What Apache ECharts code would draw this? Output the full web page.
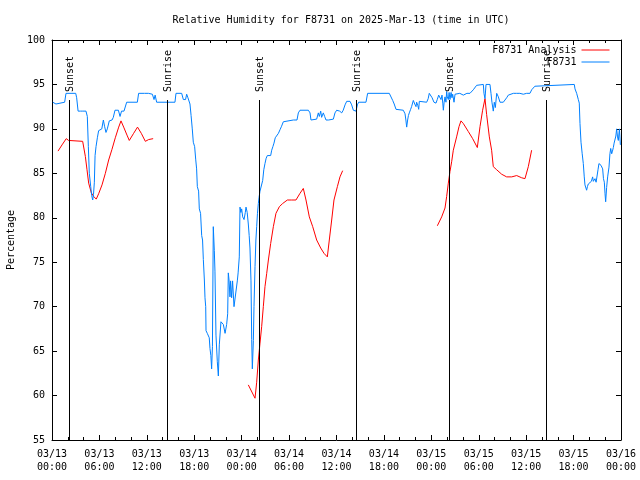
<!DOCTYPE html>
<html><head><meta charset="utf-8">
<script src="https://cdn.jsdelivr.net/npm/echarts@6/dist/echarts.min.js"></script>
<style>html,body{margin:0;padding:0;background:#fff}#c{width:640px;height:480px}</style>
</head><body><div id="c"></div>
<script>
// ---- data (time in hours since 2025-03-13 00:00 UTC) ----
const dayLabels = ['03/13', '03/14', '03/15', '03/16'];
const yTicks = [55, 60, 65, 70, 75, 80, 85, 90, 95, 100];

const obsTime = [0.1,0.35,0.5,0.7,1.6,1.77,3.0,3.12,3.3,3.6,3.75,3.9,4.3,4.47,4.6,4.72,4.9,5.02,5.15,5.25,5.36,5.45,5.57,5.74,5.9,6.07,6.3,6.5,6.65,6.83,7.0,7.25,7.6,7.76,7.97,8.4,8.61,8.8,9.11,9.45,10.8,10.96,11.7,11.89,12.2,12.7,12.91,13.05,13.24,15.56,15.69,16.41,16.62,16.9,17.04,17.2,17.38,17.46,17.6,17.75,17.88,18.05,18.18,18.3,18.39,18.55,18.64,18.8,18.94,19.05,19.15,19.28,19.36,19.45,19.49,19.65,19.78,19.9,19.99,20.1,20.2,20.3,20.41,20.54,20.62,20.75,20.92,21.05,21.17,21.38,21.5,21.68,21.9,22.02,22.1,22.23,22.31,22.4,22.52,22.6,22.73,22.85,23.03,23.28,23.45,23.55,23.7,23.79,23.9,24.0,24.13,24.3,24.46,24.55,24.7,24.84,24.95,25.05,25.18,25.27,25.35,25.48,25.56,25.69,25.8,25.9,26.0,26.11,26.2,26.32,26.5,26.66,26.8,26.95,27.1,27.25,27.67,27.8,27.95,28.09,28.25,28.43,28.65,28.85,29.05,29.27,29.48,30.54,31.0,31.17,31.38,32.44,32.65,32.77,33.49,33.7,33.83,34.0,34.12,34.33,34.5,34.67,35.0,35.6,35.81,36.02,36.4,36.66,36.85,37.08,37.29,37.71,37.92,38.13,38.47,38.64,38.8,39.73,39.94,42.68,42.85,43.11,43.3,43.53,44.45,44.67,44.78,44.88,45.0,45.1,45.21,45.38,45.5,45.72,45.9,46.06,46.14,46.3,46.4,46.48,47.41,47.6,47.74,47.83,48.1,48.33,48.59,48.75,48.93,49.1,49.22,49.35,49.45,49.52,49.62,49.73,49.85,49.94,50.02,50.15,50.25,50.36,50.5,50.61,50.7,50.87,51.0,51.2,51.6,51.85,52.05,52.5,52.7,52.89,53.1,53.31,53.5,53.73,54.58,54.66,54.79,54.92,55.42,55.55,55.67,55.84,55.97,56.1,56.27,56.48,56.69,56.9,57.11,57.3,57.53,57.74,57.95,58.38,58.6,58.8,59.2,59.64,60.06,60.48,60.7,60.9,61.1,61.24,66.09,66.18,66.39,66.6,66.72,66.81,66.94,67.09,67.23,67.35,67.44,67.55,67.65,67.75,67.86,68.07,68.25,68.41,68.5,68.71,68.85,68.96,69.09,69.21,69.47,69.68,69.78,69.89,69.98,70.06,70.18,70.31,70.48,70.6,70.7,70.82,70.92,71.03,71.13,71.24,71.35,71.45,71.56,71.66,71.8,71.92];
const obsRH = [93,93,92.8,93,93,94,94,93.5,92,92,91.8,92,92,91.4,88,85,83.5,82.5,82,82.6,84,87,88,89,89.8,90,90,91,90.3,89.6,90,90.9,91,91.3,92.1,92.1,91.4,92,92,93,93,94,94,93.8,94,93.9,93.3,93.8,93,93,94,94,93.3,93.3,93.9,93.5,93.3,92.8,91.5,90,88.5,88,86.6,85.5,83.5,83,81,80.5,78,77.5,75.3,73,71,70,67.3,67,66.8,66.5,65.3,64.5,63,65.5,79,76.3,74,66.8,63.8,62.2,65.7,68.3,68.5,68,67,66.8,68,69.2,73.8,73,71.1,72.9,71,72.9,70,70,72.9,73.8,75.6,81.2,80.6,81,80.1,79.8,80.6,81.2,80.6,79.3,78,76.6,72.9,66.3,63,66.2,70,74.5,77.5,79,80.5,81.6,82.3,83,83.2,84.2,85.4,86.1,86.7,87,87,87.6,88,88.4,89,89.1,89.5,89.9,90.3,90.8,91,91,91,91.8,92.1,92.1,91.8,91,91.1,91.8,91.4,92,91.3,91.8,91.4,91,91,91.1,91.8,92.1,92,91.8,92.1,92.7,93.1,93.1,92.7,92.1,92,92.7,93,93,94,94,93.8,93.2,92.8,92.2,92.1,91.7,91,90.2,91,91.5,91.8,92.2,92.5,93.2,92.8,92.5,93,92.6,92.2,93.1,93,93.4,94,94,93.5,93,92.9,93.3,93.8,93.8,93.3,93.8,92.9,92.1,93,93.6,93,94.2,93.6,93.3,94.1,93.3,94.1,93.5,93.9,93,93.9,94,94,93.9,93.8,94,93.9,94,94.1,94.4,94.2,94.9,95,94,93.4,95,95,94,93,92,93,92.4,94,93.6,93,93.1,93,93.1,93.5,93.8,94,94,93.8,94,94,93.9,94,94,94.4,94.4,94.8,95,95,94.5,94,93.3,92.9,90.6,88.5,87.2,86.1,84.6,83.7,83.7,83.1,83.5,83.8,84,84.1,84.6,84.1,84.4,84,84,85.4,86.1,85.9,85.5,84.4,84,82.7,81.8,83.4,84.6,85.7,87.2,87.8,87.2,87.5,87.9,88.4,88.6,89.2,90,89.1,88.7,90,88.2];

// analysis: null marks a gap between runs
const anaTime = [0.76,1.27,1.8,2.1,3.88,4.22,4.43,4.64,4.98,5.27,5.6,5.9,6.33,6.75,7.17,7.59,8.01,8.44,8.73,9.07,9.49,9.78,10.33,10.82,11.3,11.81,12.23,12.8,
  18,
  24.84,25.69,25.9,26.11,26.32,26.53,26.74,26.95,27.17,27.38,27.67,28.01,28.34,28.77,29.18,29.78,30.33,30.87,31.38,31.8,32.14,32.56,32.99,33.49,34.0,34.42,34.84,35.09,35.39,35.68,36.11,36.44,36.78,
  42,
  48.76,49.31,49.73,49.94,50.15,50.36,50.57,50.78,51.2,51.5,51.75,52.05,52.68,53.23,53.82,54.16,54.49,54.79,55.0,55.34,55.63,55.84,56.27,56.9,57.53,58.17,58.8,59.43,59.85,60.27,60.69];
const anaRH = [87.5,88.2,88.9,88.7,88.6,86.9,85.4,83.9,82.8,82.4,82.1,82.7,83.7,85,86.5,87.7,89,90.2,90.9,90.2,89.3,88.7,89.5,90.2,89.5,88.6,88.8,88.9,
  null,
  61.2,59.7,61.5,64,65.9,67.75,70,72.25,73.75,75.25,77.1,79,80.5,81.25,81.6,82,82,82,82.75,83.3,82,80.1,79,77.5,76.6,76,75.6,77.5,79.75,82,83.5,84.6,85.3,
  null,
  79.1,80.1,81.1,82.4,83.9,85.2,86.3,87.6,89.1,90.25,90.9,90.6,89.7,88.9,87.9,90.25,92.1,93.4,91.6,89.1,87.6,85.75,85.4,84.9,84.6,84.6,84.75,84.5,84.4,85.75,87.6];

const sunTime = [2.19, 14.59, 26.23, 38.50, 50.27, 62.55];
const sunLabel = ['Sunset', 'Sunrise', 'Sunset', 'Sunrise', 'Sunset', 'Sunrise'];

// ---- styling ----
const FONT = 'DejaVu Sans Mono';
const FS = 10;
const RED = '#ff0000', BLUE = '#0080ff';
const Y_MIN = yTicks[0], Y_MAX = yTicks[yTicks.length - 1];
const LINE_TOP_FRAC = 0.85, LABEL_FRAC = 0.87;

const pad = n => (n < 10 ? '0' : '') + n;
const xFmt = v => dayLabels[Math.floor(v / 24)] + '\n' + pad(Math.round(v % 24)) + ':00';

const tickCommon = { show: true, inside: true, length: 5, lineStyle: { color: '#000', width: 1 } };
const lineCommon = { show: true, onZero: false, lineStyle: { color: '#000', width: 1 } };
const labelCommon = { fontFamily: FONT, fontSize: FS, color: '#000' };
const legendCommon = { right: 30, padding: 0, align: 'right', itemWidth: 28, itemHeight: 12, itemGap: 0,
  textStyle: labelCommon, selectedMode: false,
  itemStyle: { opacity: 0 }, lineStyle: { width: 1, opacity: 1 } };

const chart = echarts.init(document.getElementById('c'), null, { renderer: 'canvas' });
chart.setOption({
  backgroundColor: '#fff',
  animation: false,
  title: {
    text: 'Relative Humidity for F8731 on 2025-Mar-13 (time in UTC)',
    left: 336, top: 10, textAlign: 'center',
    textStyle: { fontFamily: FONT, fontSize: FS, fontWeight: 'normal', color: '#000' }
  },
  legend: [
    Object.assign({ data: ['F8731 Analysis'], top: 45 }, legendCommon),
    Object.assign({ data: ['F8731'], top: 57 }, legendCommon)
  ],
  grid: { left: 52, right: 19, top: 40, bottom: 40, outerBoundsMode: 'none', containLabel: false },
  xAxis: [
    { type: 'value', position: 'bottom', min: 0, max: 72, interval: 6,
      axisLine: lineCommon, axisTick: tickCommon,
      minorTick: { show: true, splitNumber: 3, length: 3, lineStyle: { color: '#000', width: 1 } },
      splitLine: { show: false }, minorSplitLine: { show: false },
      axisLabel: Object.assign({ formatter: xFmt, lineHeight: 13, margin: 8, showMinLabel: true, showMaxLabel: true, hideOverlap: false }, labelCommon) },
    { type: 'value', position: 'top', min: 0, max: 72, interval: 6,
      axisLine: lineCommon, axisTick: tickCommon,
      minorTick: { show: true, splitNumber: 3, length: 3, lineStyle: { color: '#000', width: 1 } },
      splitLine: { show: false }, axisLabel: { show: false } }
  ],
  yAxis: [
    { type: 'value', position: 'left', min: Y_MIN, max: Y_MAX, interval: 5,
      axisLine: lineCommon, axisTick: tickCommon, splitLine: { show: false },
      axisLabel: Object.assign({ margin: 7 }, labelCommon),
      name: 'Percentage', nameLocation: 'middle', nameGap: 36, nameRotate: 90,
      nameTextStyle: labelCommon },
    { type: 'value', position: 'right', min: Y_MIN, max: Y_MAX, interval: 5,
      axisLine: lineCommon, axisTick: tickCommon, splitLine: { show: false },
      axisLabel: { show: false } }
  ],
  series: [
    { name: 'F8731 Analysis', type: 'line', xAxisIndex: 0, yAxisIndex: 0,
      data: anaTime.map((t, i) => [t, anaRH[i] === null ? '-' : anaRH[i]]),
      symbol: 'none', showSymbol: false, connectNulls: false,
      lineStyle: { color: RED, width: 1 }, itemStyle: { color: RED }, z: 2 },
    { name: 'F8731', type: 'line', xAxisIndex: 0, yAxisIndex: 0,
      data: obsTime.map((t, i) => [t, obsRH[i]]),
      symbol: 'none', showSymbol: false,
      lineStyle: { color: BLUE, width: 1 }, itemStyle: { color: BLUE }, z: 3 },
    { name: 'sun', type: 'custom', xAxisIndex: 0, yAxisIndex: 0, silent: true, z: 4,
      data: sunTime.map(t => [t, Y_MIN]),
      renderItem: function (params, api) {
        const t = api.value(0);
        const top = Y_MIN + (Y_MAX - Y_MIN) * LINE_TOP_FRAC;
        const lab = Y_MIN + (Y_MAX - Y_MIN) * LABEL_FRAC;
        const p0 = api.coord([t, Y_MIN]);
        const p1 = api.coord([t, top]);
        const p2 = api.coord([t, lab]);
        const x = Math.round(p0[0]) + 0.5;
        return { type: 'group', children: [
          { type: 'line', shape: { x1: x, y1: p0[1], x2: x, y2: p1[1] },
            style: { stroke: '#000', lineWidth: 1 } },
          { type: 'text', x: x + 1, y: p2[1], rotation: Math.PI / 2,
            style: { text: sunLabel[params.dataIndex], font: FS + 'px ' + FONT, fill: '#000',
                     align: 'left', verticalAlign: 'middle' } }
        ] };
      } }
  ]
});
</script>
</body></html>
